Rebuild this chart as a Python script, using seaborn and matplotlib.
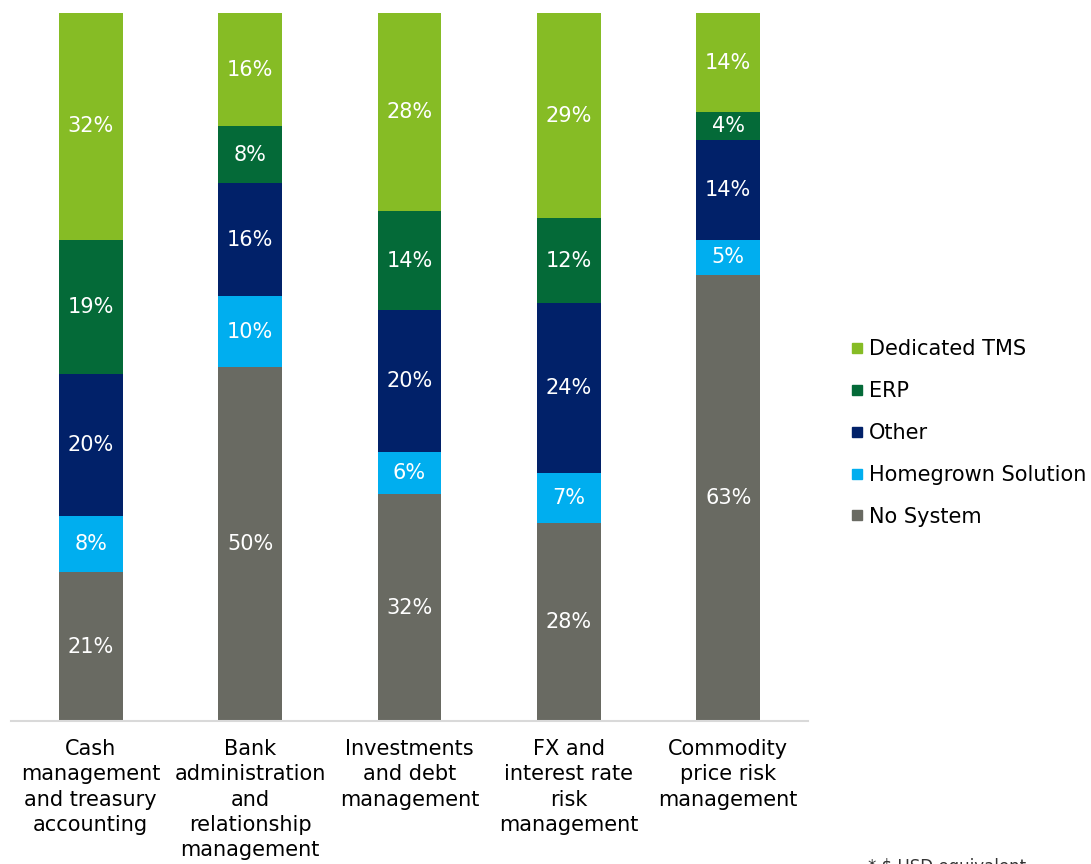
# Treasury system usage by activity - 100% stacked bars

import seaborn as sns
import matplotlib.pyplot as plt
import pandas as pd
from matplotlib.lines import Line2D

categories = [
    "Cash\nmanagement\nand treasury\naccounting",
    "Bank\nadministration\nand\nrelationship\nmanagement",
    "Investments\nand debt\nmanagement",
    "FX and\ninterest rate\nrisk\nmanagement",
    "Commodity\nprice risk\nmanagement",
]
# stacked bottom -> top
series = ["No System", "Homegrown Solution", "Other", "ERP", "Dedicated TMS"]
no_system = [21, 50, 32, 28, 63]
homegrown = [8, 10, 6, 7, 5]
other = [20, 16, 20, 24, 14]
erp = [19, 8, 14, 12, 4]
tms = [32, 16, 28, 29, 14]
colors = ["#696A62", "#00AEEF", "#012169", "#046A38", "#86BC25"]

df = pd.DataFrame({"category": categories, "No System": no_system,
                   "Homegrown Solution": homegrown, "Other": other,
                   "ERP": erp, "Dedicated TMS": tms})

sns.set_style("white")
plt.rcParams["font.family"] = ["DejaVu Sans"]

fig = plt.figure(figsize=(10.91, 8.64), dpi=100)
ax = fig.add_axes([11 / 1091, 1 - 721 / 864, 797 / 1091, 708 / 864])

# draw cumulative totals from the top layer down so each layer shows
cum = df[series].cumsum(axis=1)
for s, c in reversed(list(zip(series, colors))):
    sns.barplot(x=df["category"], y=cum[s], color=c, width=0.4,
                saturation=1, ax=ax, linewidth=0)

# value labels in the middle of each segment
for i in range(len(df)):
    for s in series:
        v = df.loc[i, s]
        mid = cum.loc[i, s] - v / 2
        ax.text(i, mid, f"{v}%", ha="center", va="center",
                color="white", fontsize=15)

ax.set_ylim(0, 100)
ax.set_xlim(-0.5, 4.5)
ax.set_xlabel("")
ax.set_ylabel("")
ax.set_yticks([])
for sp in ["top", "right", "left"]:
    ax.spines[sp].set_visible(False)
ax.spines["bottom"].set_color("#D9D9D9")
ax.spines["bottom"].set_linewidth(1.5)
ax.tick_params(axis="x", length=0, pad=13)
for t in ax.get_xticklabels():
    t.set_fontsize(15)
    t.set_linespacing(1.33)
    t.set_color("black")

handles = [Line2D([], [], marker="s", linestyle="", color=c, markersize=7.5)
           for c in reversed(colors)]
leg = fig.legend(handles, list(reversed(series)), loc="center left",
                 bbox_to_anchor=(828 / 1091, 1 - 433 / 864), frameon=False,
                 fontsize=15, labelspacing=1.05, handletextpad=0.05,
                 handlelength=1.0)
for t in leg.get_texts():
    t.set_color("black")

fig.text(868 / 1091, 1 - 858 / 864, "* $ USD equivalent", fontsize=12,
         va="top", ha="left", color="#333333")

fig.savefig("out.png", dpi=100)
